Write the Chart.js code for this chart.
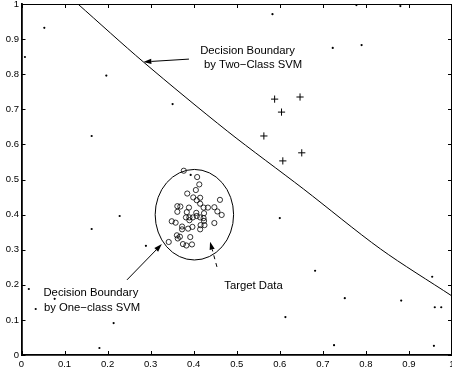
<!DOCTYPE html>
<html><head><meta charset="utf-8">
<script src="https://cdn.jsdelivr.net/npm/chart.js@4/dist/chart.umd.min.js"></script>
<style>html,body{margin:0;padding:0;background:#fff;overflow:hidden}#wrap{width:452px;height:376px;position:relative}canvas{display:block}</style>
</head><body><div id="wrap"><canvas id="c" width="452" height="376"></canvas></div>
<script>
// ---- tick labels ----
const xTickValues = [0, 0.1, 0.2, 0.3, 0.4, 0.5, 0.6, 0.7, 0.8, 0.9, 1];
const xTickLabels = ['0', '0.1', '0.2', '0.3', '0.4', '0.5', '0.6', '0.7', '0.8', '0.9', '1'];
const yTickValues = [0, 0.1, 0.2, 0.3, 0.4, 0.5, 0.6, 0.7, 0.8, 0.9, 1];
const yTickLabels = ['0', '0.1', '0.2', '0.3', '0.4', '0.5', '0.6', '0.7', '0.8', '0.9', '1'];

// ---- outliers (dots) ----
const outlierX = [0.053, 0.008, 0.197, 0.351, 0.583, 0.723, 0.790, 0.880, 0.778, 0.163, 0.228, 0.163, 0.289, 0.600, 0.393,
                  0.017, 0.033, 0.077, 0.214, 0.181, 0.613, 0.682, 0.751, 0.726, 0.882, 0.954, 0.960, 0.975, 0.958];
const outlierY = [0.932, 0.849, 0.796, 0.715, 0.971, 0.875, 0.883, 0.994, 0.997, 0.624, 0.396, 0.359, 0.311, 0.390, 0.513,
                  0.188, 0.131, 0.160, 0.091, 0.020, 0.108, 0.240, 0.162, 0.028, 0.155, 0.223, 0.136, 0.136, 0.026];

// ---- second class (+) ----
const plusX = [0.588, 0.647, 0.604, 0.563, 0.607, 0.651];
const plusY = [0.729, 0.735, 0.692, 0.624, 0.553, 0.576];

// ---- target data (o) ----
const targetX = [0.377, 0.408, 0.413, 0.405, 0.385, 0.399, 0.415, 0.407, 0.415, 0.461, 0.362, 0.369, 0.389, 0.423, 0.433, 0.448,
                 0.362, 0.384, 0.406, 0.424, 0.455, 0.465, 0.382, 0.390, 0.398, 0.407, 0.415, 0.423, 0.390, 0.424, 0.349, 0.358,
                 0.373, 0.448, 0.397, 0.416, 0.425, 0.373, 0.387, 0.415, 0.361, 0.368, 0.363, 0.392, 0.375, 0.383, 0.396, 0.342];
const targetY = [0.525, 0.507, 0.486, 0.470, 0.460, 0.449, 0.448, 0.441, 0.431, 0.442, 0.424, 0.423, 0.420, 0.420, 0.420, 0.421,
                 0.408, 0.407, 0.405, 0.404, 0.409, 0.399, 0.392, 0.392, 0.392, 0.396, 0.392, 0.390, 0.384, 0.382, 0.381, 0.377,
                 0.366, 0.376, 0.365, 0.370, 0.370, 0.358, 0.360, 0.358, 0.341, 0.337, 0.332, 0.336, 0.316, 0.312, 0.315, 0.322];

// ---- two-class SVM decision boundary ----
const boundaryX = [0.131, 0.283, 0.478, 0.655, 0.834, 1.0];
const boundaryY = [1.0, 0.835, 0.638, 0.473, 0.302, 0.168];

// ---- one-class SVM boundary (ellipse) ----
const ellipseCenter = [0.4016, 0.3997];
const ellipseRadii = [0.0911, 0.129];

const zip = (xs, ys) => xs.map((x, i) => ({x, y: ys[i]}));

const FONT = "'Liberation Sans', Arial, Helvetica, sans-serif";

const annotations = [
  {type: 'text', text: 'Decision Boundary', x: 0.415, y: 0.857},
  {type: 'text', text: 'by Two\u2212Class SVM', x: 0.424, y: 0.819},
  {type: 'arrow', x1: 0.389, y1: 0.843, x2: 0.283, y2: 0.835},
  {type: 'text', text: 'Decision Boundary', x: 0.051, y: 0.169},
  {type: 'text', text: 'by One\u2212class SVM', x: 0.052, y: 0.125},
  {type: 'arrow', x1: 0.245, y1: 0.214, x2: 0.326, y2: 0.316},
  {type: 'text', text: 'Target Data', x: 0.471, y: 0.188},
  {type: 'arrow', x1: 0.454, y1: 0.251, x2: 0.438, y2: 0.323, dashed: true}
];

const decorPlugin = {
  id: 'decor',
  afterDatasetsDraw(chart) {
    const {ctx, chartArea: a, scales: {x: xs, y: ys}} = chart;
    ctx.save();
    ctx.beginPath();
    ctx.rect(a.left, a.top, a.right - a.left, a.bottom - a.top);
    ctx.clip();
    // ellipse
    const cx = xs.getPixelForValue(ellipseCenter[0]);
    const cy = ys.getPixelForValue(ellipseCenter[1]);
    const rx = Math.abs(xs.getPixelForValue(ellipseCenter[0] + ellipseRadii[0]) - cx);
    const ry = Math.abs(ys.getPixelForValue(ellipseCenter[1] + ellipseRadii[1]) - cy);
    ctx.beginPath();
    ctx.ellipse(cx, cy, rx, ry, 0, 0, Math.PI * 2);
    ctx.strokeStyle = '#000';
    ctx.lineWidth = 1;
    ctx.stroke();
    // annotations
    for (const an of annotations) {
      if (an.type === 'text') {
        ctx.font = '11.3px ' + FONT;
        ctx.fillStyle = '#000';
        ctx.textAlign = 'left';
        ctx.textBaseline = 'alphabetic';
        ctx.fillText(an.text, xs.getPixelForValue(an.x), ys.getPixelForValue(an.y));
      } else {
        const x1 = xs.getPixelForValue(an.x1), y1 = ys.getPixelForValue(an.y1);
        const x2 = xs.getPixelForValue(an.x2), y2 = ys.getPixelForValue(an.y2);
        const ang = Math.atan2(y2 - y1, x2 - x1);
        const hl = 8, hw = 2.6;
        const bx = x2 - hl * Math.cos(ang), by = y2 - hl * Math.sin(ang);
        ctx.beginPath();
        ctx.setLineDash(an.dashed ? [4, 4] : []);
        ctx.moveTo(x1, y1);
        ctx.lineTo(bx, by);
        ctx.lineWidth = 1;
        ctx.strokeStyle = '#000';
        ctx.stroke();
        ctx.setLineDash([]);
        ctx.beginPath();
        ctx.moveTo(x2, y2);
        ctx.lineTo(bx + hw * Math.sin(ang), by - hw * Math.cos(ang));
        ctx.lineTo(bx - hw * Math.sin(ang), by + hw * Math.cos(ang));
        ctx.closePath();
        ctx.fillStyle = '#000';
        ctx.fill();
      }
    }
    ctx.restore();
  },
  afterDraw(chart) {
    const {ctx, chartArea: a, scales: {x: xs, y: ys}} = chart;
    ctx.save();
    ctx.strokeStyle = '#000';
    ctx.lineWidth = 1;
    // top and right frame
    ctx.beginPath();
    ctx.moveTo(a.left, a.top + 0.5);
    ctx.lineTo(a.right, a.top + 0.5);
    ctx.moveTo(a.right - 0.5, a.top);
    ctx.lineTo(a.right - 0.5, a.bottom);
    ctx.stroke();
    // inward ticks
    const L = 4;
    ctx.beginPath();
    for (const v of xTickValues) {
      const px = Math.round(xs.getPixelForValue(v)) + 0.5;
      ctx.moveTo(px, a.bottom); ctx.lineTo(px, a.bottom - L);
      ctx.moveTo(px, a.top); ctx.lineTo(px, a.top + L);
    }
    for (const v of yTickValues) {
      const py = Math.round(ys.getPixelForValue(v)) + 0.5;
      ctx.moveTo(a.left, py); ctx.lineTo(a.left + L, py);
      ctx.moveTo(a.right, py); ctx.lineTo(a.right - L, py);
    }
    ctx.stroke();
    ctx.restore();
  }
};

function zeroPad(s) { s.paddingLeft = 0; s.paddingRight = 0; s.paddingTop = 0; s.paddingBottom = 0; }

new Chart(document.getElementById('c'), {
  type: 'scatter',
  data: {
    datasets: [
      {label: 'boundary', type: 'line', data: zip(boundaryX, boundaryY), borderColor: '#000', borderWidth: 1,
       pointRadius: 0, fill: false, tension: 0.3, order: 3},
      {label: 'outliers', data: zip(outlierX, outlierY), pointStyle: 'circle', pointRadius: 1.1,
       backgroundColor: '#000', borderWidth: 0},
      {label: 'class2', data: zip(plusX, plusY), pointStyle: 'cross', pointRadius: 3.6,
       borderColor: '#000', borderWidth: 1},
      {label: 'target', data: zip(targetX, targetY), pointStyle: 'circle', pointRadius: 2.6,
       borderColor: '#000', borderWidth: 0.8, backgroundColor: 'rgba(0,0,0,0)'}
    ]
  },
  options: {
    responsive: false,
    animation: false,
    devicePixelRatio: 1,
    layout: {autoPadding: false, padding: {left: 0, right: 0, top: 4, bottom: 0}},
    plugins: {legend: {display: false}, tooltip: {enabled: false}},
    scales: {
      x: {
        type: 'linear', min: 0, max: 1,
        afterBuildTicks: s => { s.ticks = xTickValues.map(v => ({value: v})); },
        afterFit: s => { s.height = 21; zeroPad(s); },
        grid: {display: false, drawTicks: false},
        border: {display: true, color: '#000', width: 1.8},
        ticks: {autoSkip: false, maxRotation: 0, padding: 4, color: '#000',
                font: {family: FONT, size: 9.5},
                callback: (v, i) => xTickLabels[i]}
      },
      y: {
        type: 'linear', min: 0, max: 1,
        afterBuildTicks: s => { s.ticks = yTickValues.map(v => ({value: v})); },
        afterFit: s => { s.width = 21.5; zeroPad(s); },
        grid: {display: false, drawTicks: false},
        border: {display: true, color: '#000', width: 1.8},
        ticks: {autoSkip: false, padding: 2.5, color: '#000',
                font: {family: FONT, size: 9.5},
                callback: (v, i) => yTickLabels[i]}
      }
    }
  },
  plugins: [decorPlugin]
});
</script>
</body></html>
